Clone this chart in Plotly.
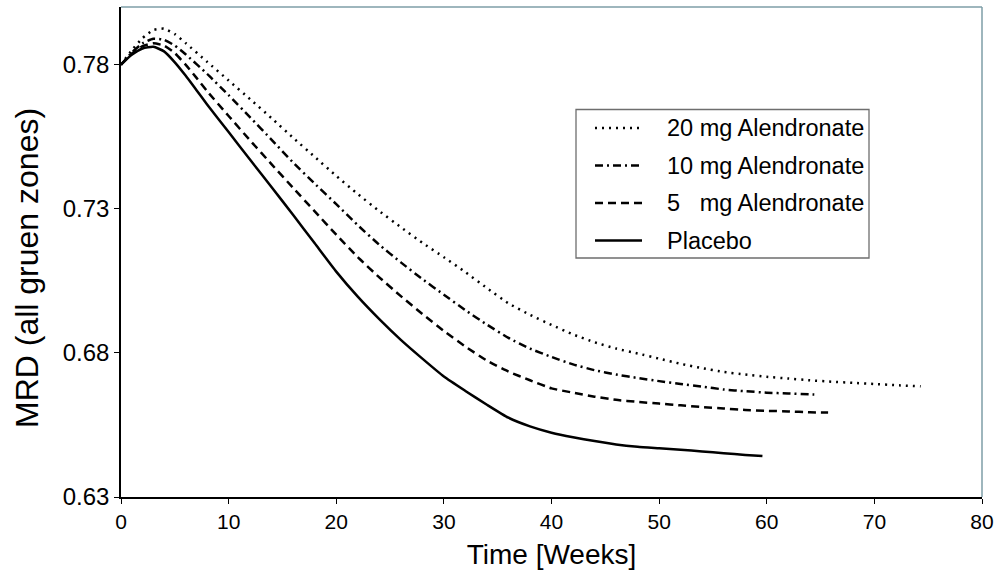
import plotly.graph_objects as go

# ---- data ----
weeks_placebo = [0, 1, 2, 3, 4, 5, 6, 7, 8, 10, 12, 14, 16, 18, 20, 22, 24, 26, 28, 30,
                 32, 34, 36, 38, 40, 42, 44, 46, 48, 50, 52, 54, 56, 58, 59.6]
mrd_placebo = [0.7800, 0.7834, 0.7856, 0.7862, 0.7846, 0.7808, 0.7762, 0.7712, 0.7662,
               0.7566, 0.7470, 0.7375, 0.7278, 0.7180, 0.7082, 0.6995, 0.6917, 0.6845,
               0.6780, 0.6718, 0.6668, 0.6620, 0.6575, 0.6545, 0.6523, 0.6507, 0.6494,
               0.6482, 0.6474, 0.6469, 0.6464, 0.6458, 0.6452, 0.6446, 0.6442]

weeks_5mg = [0, 1, 2, 3, 4, 5, 6, 7, 8, 10, 12, 14, 16, 18, 20, 22, 24, 26, 28, 30, 32, 34,
             36, 38, 40, 42, 44, 46, 48, 50, 52, 54, 56, 58, 60, 62, 64, 65.7]
mrd_5mg = [0.7800, 0.7838, 0.7864, 0.7874, 0.7866, 0.7840, 0.7800, 0.7755, 0.7708,
           0.7622, 0.7537, 0.7454, 0.7372, 0.7291, 0.7210, 0.7132, 0.7062, 0.6997,
           0.6935, 0.6876, 0.6822, 0.6773, 0.6735, 0.6705, 0.6677, 0.6662, 0.6648,
           0.6637, 0.6630, 0.6624, 0.6618, 0.6612, 0.6607, 0.6602, 0.6599, 0.6597,
           0.6594, 0.6593]

weeks_10mg = [0, 1, 2, 3, 4, 5, 6, 8, 10, 12, 14, 16, 18, 20, 22, 24, 26, 28, 30, 32, 34,
              36, 38, 40, 42, 44, 46, 48, 50, 52, 54, 56, 58, 60, 62, 64, 64.7]
mrd_10mg = [0.7800, 0.7842, 0.7874, 0.7890, 0.7886, 0.7866, 0.7836, 0.7768, 0.7694,
            0.7617, 0.7539, 0.7460, 0.7387, 0.7316, 0.7243, 0.7175, 0.7114, 0.7056,
            0.7002, 0.6948, 0.6898, 0.6852, 0.6815, 0.6786, 0.6760, 0.6740, 0.6725,
            0.6713, 0.6702, 0.6692, 0.6683, 0.6673, 0.6667, 0.6662, 0.6659, 0.6656, 0.6655]

weeks_20mg = [0, 1, 2, 3, 4, 5, 6, 8, 10, 12, 14, 16, 18, 20, 22, 24, 26, 28, 30, 32, 34,
              36, 38, 40, 42, 44, 46, 48, 50, 52, 54, 56, 58, 60, 62, 64, 66, 68, 70, 72, 74.3]
mrd_20mg = [0.7800, 0.7850, 0.7892, 0.7920, 0.7925, 0.7906, 0.7875, 0.7810, 0.7745,
            0.7680, 0.7614, 0.7546, 0.7480, 0.7414, 0.7351, 0.7292, 0.7236, 0.7182,
            0.7132, 0.7080, 0.7025, 0.6972, 0.6932, 0.6897, 0.6864, 0.6837, 0.6815,
            0.6798, 0.6780, 0.6762, 0.6747, 0.6734, 0.6725, 0.6717, 0.6711, 0.6705,
            0.6700, 0.6696, 0.6692, 0.6688, 0.6684]

series_names = ["20 mg Alendronate", "10 mg Alendronate", "5   mg Alendronate", "Placebo"]
y_tick_vals = [0.63, 0.68, 0.73, 0.78]
x_tick_vals = [0, 10, 20, 30, 40, 50, 60, 70, 80]

# ---- styles ----
FONT = "Liberation Sans, Arial, sans-serif"
LW = 2.5
dashes = ["2px,5px", "8px,4px,2px,4px", "8px,5px", "solid"]
series = [(weeks_20mg, mrd_20mg), (weeks_10mg, mrd_10mg), (weeks_5mg, mrd_5mg),
          (weeks_placebo, mrd_placebo)]

fig = go.Figure()
for (x, y), name, d in zip(series, series_names, dashes):
    fig.add_trace(go.Scatter(x=x, y=y, mode="lines", name=name, showlegend=False,
                             line=dict(color="black", width=LW, dash=d, shape="spline",
                                       smoothing=0.5)))

# plot area in pixels: left 121, right 982, top 7, bottom 497
L, R, T, B = 121, 982, 7, 497
W, H = R - L, B - T
px = lambda v: (v - L) / W
py = lambda v: (B - v) / H

shapes = [
    dict(type="line", xref="paper", yref="paper", x0=0, x1=1, y0=1, y1=1,
         line=dict(color="#7e9ea7", width=1.5)),
    dict(type="line", xref="paper", yref="paper", x0=1, x1=1, y0=0, y1=1,
         line=dict(color="#7e9ea7", width=1.5)),
    dict(type="rect", xref="paper", yref="paper", x0=px(576), x1=px(869),
         y0=py(258), y1=py(109.5), line=dict(color="#6e6e6e", width=1.3),
         fillcolor="white", layer="above"),
]
annotations = []
legend_y = [128, 165.5, 203, 240.5]
for name, d, yy in zip(series_names, dashes, legend_y):
    shapes.append(dict(type="line", xref="paper", yref="paper", x0=px(595), x1=px(642),
                       y0=py(yy), y1=py(yy), layer="above",
                       line=dict(color="black", width=LW, dash=d)))
    annotations.append(dict(xref="paper", yref="paper", x=px(665), y=py(yy),
                            xanchor="left", yanchor="middle", text=name, showarrow=False,
                            font=dict(family=FONT, size=23.5, color="black")))

# y-axis title
annotations.append(dict(xref="paper", yref="paper", x=px(27), y=py(268),
                        xanchor="center", yanchor="middle", textangle=-90,
                        text="MRD (all gruen zones)", showarrow=False,
                        font=dict(family=FONT, size=32, color="black")))

fig.update_layout(
    width=1000, height=581,
    margin=dict(l=L, r=1000 - R, t=T, b=581 - B),
    paper_bgcolor="white", plot_bgcolor="white",
    font=dict(family=FONT, color="black"),
    shapes=shapes, annotations=annotations,
    xaxis=dict(range=[0, 80], tickvals=x_tick_vals, ticks="outside", ticklen=5,
               tickwidth=1.2, tickcolor="black", showgrid=False, zeroline=False,
               showline=True, linecolor="black", linewidth=1.5,
               tickfont=dict(family=FONT, size=21),
               title=dict(text="Time [Weeks]", font=dict(family=FONT, size=28), standoff=12)),
    yaxis=dict(range=[0.63, 0.80], tickvals=y_tick_vals,
               ticktext=[f"{v:.2f}" for v in y_tick_vals], ticks="outside", ticklen=5,
               tickwidth=1.2, tickcolor="black", showgrid=False, zeroline=False,
               showline=True, linecolor="black", linewidth=1.5,
               tickfont=dict(family=FONT, size=24)),
)

fig.write_html("out.html")
